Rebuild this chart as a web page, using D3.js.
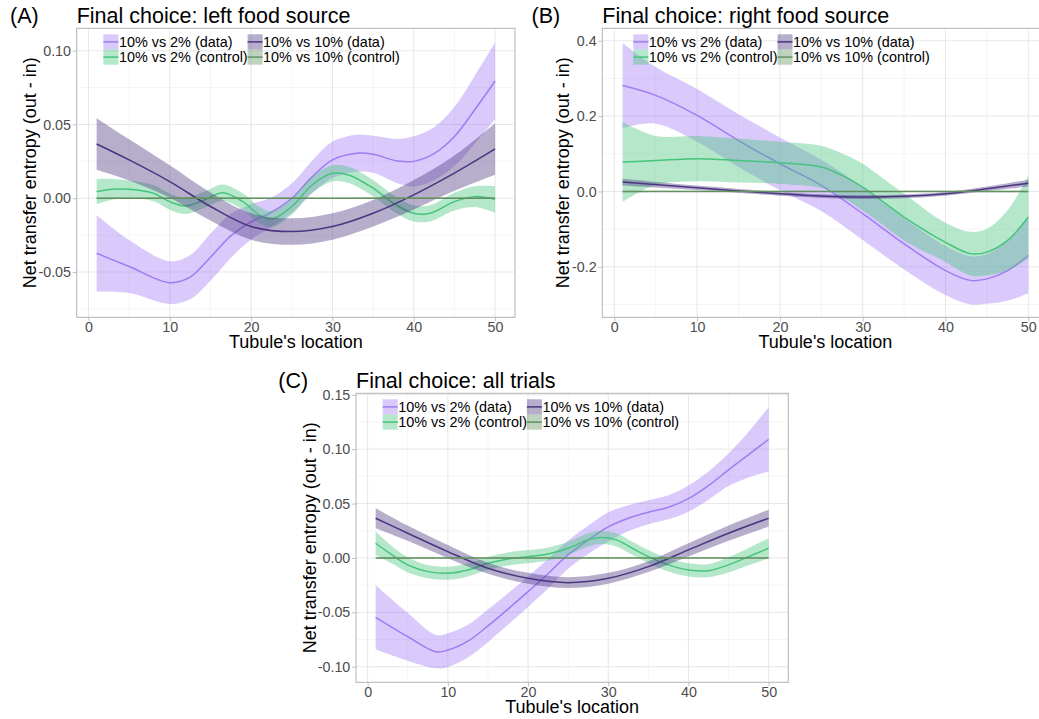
<!DOCTYPE html>
<html>
<head>
<meta charset="utf-8">
<script src="https://cdn.jsdelivr.net/npm/d3@7"></script>
<style>
  body { margin: 0; background: #fff; }
  svg { display: block; }
  text { font-family: "Liberation Sans", Arial, Helvetica, sans-serif; }
</style>
</head>
<body>
<svg id="fig" width="1039" height="719"></svg>
<script>
// ---- Series labels (legend order) ----
const seriesLabels = ["10% vs 2% (data)", "10% vs 2% (control)", "10% vs 10% (data)", "10% vs 10% (control)"];

// ---- Shared x axis ----
const xTicks = [0, 10, 20, 30, 40, 50];
const xMinor = [5, 15, 25, 35, 45];
const xRange = [-1.45, 52.45];

// ---- Panel A: final choice left food source ----
const aDiffX    = [1, 5, 10, 12.5, 15, 17.5, 20, 22.5, 25, 27.5, 30, 33, 35, 38, 40, 42.5, 45, 47.5, 50];
const aDiffMean = [-0.0373, -0.0463, -0.0572, -0.0535, -0.0400, -0.0255, -0.0160, -0.0095, 0.000, 0.0145, 0.026, 0.0305, 0.0298, 0.0252, 0.0250, 0.0302, 0.0418, 0.060, 0.0795];
const aDiffHalf = [0.026, 0.018, 0.0145, 0.015, 0.016, 0.015, 0.012, 0.010, 0.010, 0.011, 0.0123, 0.0125, 0.0125, 0.015, 0.017, 0.018, 0.020, 0.023, 0.026];

const aCtrlDiffX    = [1, 3, 5, 8, 10, 12, 14.5, 16.5, 19, 21, 22.5, 25, 27.5, 30, 32, 35, 37.5, 40, 42, 45, 47.5, 50];
const aCtrlDiffMean = [0.0045, 0.0061, 0.0061, 0.0034, -0.0023, -0.0052, -0.0005, 0.0038, -0.0023, -0.0113, -0.0142, -0.0056, 0.009, 0.0169, 0.0158, 0.0068, -0.0034, -0.0102, -0.0102, -0.0023, 0.0011, -0.0007];
const aCtrlDiffHalf = [0.0085, 0.007, 0.006, 0.0055, 0.0055, 0.0055, 0.0055, 0.0055, 0.0055, 0.0055, 0.0055, 0.0055, 0.0055, 0.0055, 0.0055, 0.0055, 0.0055, 0.0055, 0.0055, 0.006, 0.007, 0.009];

const aSameX    = [1, 5, 10, 15, 20, 25, 30, 35, 40, 45, 50];
const aSameMean = [0.0368, 0.026, 0.0113, -0.0056, -0.0192, -0.0226, -0.0192, -0.0102, 0.0023, 0.017, 0.0334];
const aSameHalf = [0.0175, 0.014, 0.011, 0.0095, 0.009, 0.009, 0.009, 0.009, 0.010, 0.012, 0.0175];

const aCtrlSameX    = [1, 25, 50];
const aCtrlSameMean = [0, 0, 0];
const aCtrlSameHalf = [0.0005, 0.0004, 0.0005];

const aYRange = [-0.0807, 0.1152];
const aYTicks = [-0.05, 0.00, 0.05, 0.10];
const aYMinor = [-0.075, -0.025, 0.025, 0.075];

// ---- Panel B: final choice right food source ----
const bDiffX    = [1, 5, 10, 15, 20, 25, 30, 35, 40, 43, 45, 47.5, 50];
const bDiffMean = [0.281, 0.255, 0.202, 0.135, 0.0735, 0.016, -0.059, -0.139, -0.21, -0.236, -0.232, -0.21, -0.17];
const bDiffHalf = [0.113, 0.075, 0.07, 0.07, 0.07, 0.068, 0.07, 0.068, 0.065, 0.064, 0.066, 0.08, 0.10];

const bCtrlDiffX    = [1, 5, 10, 15, 20, 25, 27.5, 30, 32.5, 35, 40, 43, 45, 47.5, 50];
const bCtrlDiffMean = [0.078, 0.082, 0.087, 0.082, 0.076, 0.065, 0.0425, 0.0115, -0.028, -0.068, -0.135, -0.165, -0.161, -0.13, -0.068];
const bCtrlDiffHalf = [0.106, 0.065, 0.06, 0.058, 0.056, 0.056, 0.058, 0.062, 0.062, 0.062, 0.052, 0.058, 0.062, 0.08, 0.11];

const bSameX    = [1, 10, 20, 25, 30, 35, 40, 45, 50];
const bSameMean = [0.025, 0.0097, -0.0062, -0.0124, -0.015, -0.013, -0.0062, 0.007, 0.022];
const bSameHalf = [0.009, 0.006, 0.005, 0.005, 0.005, 0.005, 0.005, 0.006, 0.009];

const bCtrlSameX    = [1, 25, 50];
const bCtrlSameMean = [0, 0, 0];
const bCtrlSameHalf = [0.002, 0.0015, 0.002];

const bYRange = [-0.334, 0.433];
const bYTicks = [-0.2, 0.0, 0.2, 0.4];
const bYMinor = [-0.3, -0.1, 0.1, 0.3];

// ---- Panel C: final choice all trials ----
const cDiffX    = [1, 5, 8.5, 10, 12.5, 15, 17.5, 20, 22.5, 25, 27.5, 30, 32.5, 35, 37.5, 40, 42.5, 45, 47.5, 50];
const cDiffMean = [-0.0546, -0.0724, -0.0862, -0.0847, -0.0765, -0.0625, -0.0470, -0.0310, -0.0145, 0.0030, 0.0165, 0.0285, 0.0365, 0.0420, 0.0465, 0.0545, 0.0665, 0.0810, 0.0950, 0.1090];
const cDiffHalf = [0.0296, 0.022, 0.0153, 0.0155, 0.015, 0.015, 0.0145, 0.014, 0.0135, 0.013, 0.013, 0.0135, 0.012, 0.011, 0.011, 0.012, 0.013, 0.015, 0.021, 0.0295];

const cCtrlDiffX    = [1, 3, 5, 7.5, 10, 12.5, 15, 17.5, 20, 22.5, 25, 27.5, 29, 31, 33, 35, 37.5, 40, 42.5, 45, 47.5, 50];
const cCtrlDiffMean = [0.0135, 0.003, -0.0064, -0.0126, -0.0141, -0.011, -0.0049, -0.0009, 0.0012, 0.0037, 0.0089, 0.0166, 0.0187, 0.0166, 0.0089, 0.0012, -0.0064, -0.011, -0.0117, -0.0064, 0.0012, 0.0089];
const cCtrlDiffHalf = [0.0107, 0.008, 0.007, 0.006, 0.006, 0.006, 0.006, 0.006, 0.006, 0.006, 0.006, 0.006, 0.006, 0.006, 0.006, 0.006, 0.006, 0.006, 0.006, 0.007, 0.008, 0.0093];

const cSameX    = [1, 5, 10, 15, 20, 25, 30, 35, 40, 45, 50];
const cSameMean = [0.0365, 0.0227, 0.0058, -0.0095, -0.0187, -0.0227, -0.0187, -0.008, 0.0074, 0.0227, 0.0365];
const cSameHalf = [0.0092, 0.007, 0.006, 0.005, 0.005, 0.005, 0.005, 0.005, 0.006, 0.007, 0.0077];

const cCtrlSameX    = [1, 25, 50];
const cCtrlSameMean = [0, 0, 0];
const cCtrlSameHalf = [0.0005, 0.0004, 0.0005];

const cYRange = [-0.1143, 0.1513];
const cYTicks = [-0.10, -0.05, 0.00, 0.05, 0.10, 0.15];
const cYMinor = [-0.075, -0.025, 0.025, 0.075, 0.125];

// ---- Styling ----
const seriesColors = ["#9f7bf4", "#45c47c", "#4a3580", "#62905f"];
const ribbonOpacity = 0.4;
const gridMajor = "#e4e4e4", gridMinor = "#f1f1f1", frameColor = "#b3b3b3", tickText = "#4d4d4d";

function zipSeries(xs, mean, half) {
  return xs.map((x, i) => ({ x, y: mean[i], lo: mean[i] - half[i], hi: mean[i] + half[i] }));
}

const panels = [
  {
    tag: "(A)", title: "Final choice: left food source",
    box: { l: 76.7, t: 28.3, r: 515, b: 317.3 }, tagX: 10, yTitleOff: 41.2, legendDx: 26.7,
    yRange: aYRange, yTicks: aYTicks, yMinor: aYMinor, digits: 2,
    series: [
      zipSeries(aDiffX, aDiffMean, aDiffHalf),
      zipSeries(aCtrlDiffX, aCtrlDiffMean, aCtrlDiffHalf),
      zipSeries(aSameX, aSameMean, aSameHalf),
      zipSeries(aCtrlSameX, aCtrlSameMean, aCtrlSameHalf)
    ]
  },
  {
    tag: "(B)", title: "Final choice: right food source",
    box: { l: 602.3, t: 28.3, r: 1048.6, b: 317.3 }, tagX: 531.5, yTitleOff: 33.1, legendDx: 31,
    yRange: bYRange, yTicks: bYTicks, yMinor: bYMinor, digits: 1,
    series: [
      zipSeries(bDiffX, bDiffMean, bDiffHalf),
      zipSeries(bCtrlDiffX, bCtrlDiffMean, bCtrlDiffHalf),
      zipSeries(bSameX, bSameMean, bSameHalf),
      zipSeries(bCtrlSameX, bCtrlSameMean, bCtrlSameHalf)
    ]
  },
  {
    tag: "(C)", title: "Final choice: all trials",
    box: { l: 356, t: 393.3, r: 788.3, b: 682.3 }, tagX: 278.3, yTitleOff: 39.8, legendDx: 26.7,
    yRange: cYRange, yTicks: cYTicks, yMinor: cYMinor, digits: 2,
    series: [
      zipSeries(cDiffX, cDiffMean, cDiffHalf),
      zipSeries(cCtrlDiffX, cCtrlDiffMean, cCtrlDiffHalf),
      zipSeries(cSameX, cSameMean, cSameHalf),
      zipSeries(cCtrlSameX, cCtrlSameMean, cCtrlSameHalf)
    ]
  }
];

const svg = d3.select("#fig");
const curve = d3.curveCatmullRom.alpha(0.5);

panels.forEach((p, pi) => {
  const { l, t, r, b } = p.box;
  const x = d3.scaleLinear().domain(xRange).range([l, r]);
  const y = d3.scaleLinear().domain(p.yRange).range([b, t]);
  const g = svg.append("g");

  const clipId = "clip" + pi;
  g.append("clipPath").attr("id", clipId)
    .append("rect").attr("x", l).attr("y", t).attr("width", r - l).attr("height", b - t);

  // background grid
  const grid = g.append("g");
  grid.selectAll("line.xm").data(xMinor).join("line")
    .attr("x1", d => x(d)).attr("x2", d => x(d)).attr("y1", t).attr("y2", b)
    .attr("stroke", gridMinor).attr("stroke-width", 0.7);
  grid.selectAll("line.ym").data(p.yMinor).join("line")
    .attr("x1", l).attr("x2", r).attr("y1", d => y(d)).attr("y2", d => y(d))
    .attr("stroke", gridMinor).attr("stroke-width", 0.7);
  grid.selectAll("line.xM").data(xTicks).join("line")
    .attr("x1", d => x(d)).attr("x2", d => x(d)).attr("y1", t).attr("y2", b)
    .attr("stroke", gridMajor).attr("stroke-width", 0.9);
  grid.selectAll("line.yM").data(p.yTicks).join("line")
    .attr("x1", l).attr("x2", r).attr("y1", d => y(d)).attr("y2", d => y(d))
    .attr("stroke", gridMajor).attr("stroke-width", 0.9);

  // smoothed fits with confidence ribbons, one group at a time
  const area = d3.area().x(d => x(d.x)).y0(d => y(d.lo)).y1(d => y(d.hi)).curve(curve);
  const line = d3.line().x(d => x(d.x)).y(d => y(d.y)).curve(curve);
  const marks = g.append("g").attr("clip-path", `url(#${clipId})`);
  p.series.forEach((s, si) => {
    marks.append("path").datum(s).attr("d", area)
      .attr("fill", seriesColors[si]).attr("fill-opacity", ribbonOpacity).attr("stroke", "none");
    marks.append("path").datum(s).attr("d", line)
      .attr("fill", "none").attr("stroke", seriesColors[si]).attr("stroke-width", 1.5);
  });

  // panel frame
  g.append("rect").attr("x", l).attr("y", t).attr("width", r - l).attr("height", b - t)
    .attr("fill", "none").attr("stroke", frameColor).attr("stroke-width", 1);

  // axes
  const fmt = v => v.toFixed(p.digits);
  const yAxis = g.append("g").attr("transform", `translate(${l},0)`)
    .call(d3.axisLeft(y).tickValues(p.yTicks).tickFormat(fmt).tickSize(4).tickPadding(1.7));
  const xAxis = g.append("g").attr("transform", `translate(0,${b})`)
    .call(d3.axisBottom(x).tickValues(xTicks).tickFormat(d3.format("d")).tickSize(4).tickPadding(0.6));
  [yAxis, xAxis].forEach(ax => {
    ax.select(".domain").remove();
    ax.selectAll(".tick line").attr("stroke", frameColor).attr("stroke-width", 0.8);
    ax.selectAll(".tick text").attr("fill", tickText)
      .style("font-family", '"Liberation Sans", Arial, sans-serif').style("font-size", "14.3px");
  });

  // axis titles
  g.append("text").attr("x", (l + r) / 2).attr("y", b + 31)
    .attr("text-anchor", "middle").attr("font-size", 18).attr("fill", "#000")
    .text("Tubule's location");
  g.append("text")
    .attr("transform", `translate(${l - p.yTitleOff},${(t + b) / 2}) rotate(-90)`)
    .attr("text-anchor", "middle").attr("font-size", 18).attr("fill", "#000")
    .text("Net transfer entropy (out - in)");

  // titles
  g.append("text").attr("x", p.tagX).attr("y", t - 5.8)
    .attr("font-size", 21.5).attr("fill", "#000").text(p.tag);
  g.append("text").attr("x", l).attr("y", t - 5.8)
    .attr("font-size", 21.5).attr("fill", "#000").text(p.title);

  // legend, two columns inside the panel
  const keyW = 15, keyH = 15.2, colDx = 144.2;
  const lg = g.append("g").attr("transform", `translate(${l + p.legendDx},${t + 6})`);
  seriesLabels.forEach((lab, si) => {
    const col = Math.floor(si / 2), row = si % 2;
    const kx = col * colDx, ky = row * keyH;
    lg.append("rect").attr("x", kx).attr("y", ky).attr("width", keyW).attr("height", keyH)
      .attr("fill", seriesColors[si]).attr("fill-opacity", ribbonOpacity);
    lg.append("line").attr("x1", kx).attr("x2", kx + keyW).attr("y1", ky + keyH / 2).attr("y2", ky + keyH / 2)
      .attr("stroke", seriesColors[si]).attr("stroke-width", 1.5);
    lg.append("text").attr("x", kx + keyW + 0.5).attr("y", ky + keyH / 2 + 5.1)
      .attr("font-size", 14.4).attr("fill", "#000").text(lab);
  });
});
</script>
</body>
</html>
